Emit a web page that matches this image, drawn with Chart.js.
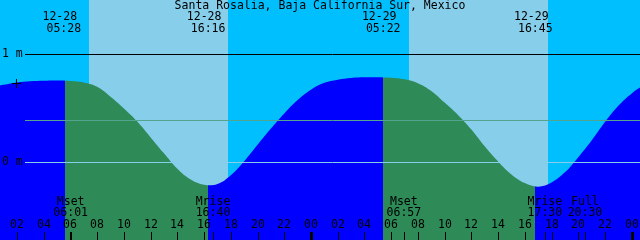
<!DOCTYPE html>
<html>
<head>
<meta charset="utf-8">
<script src="https://cdn.jsdelivr.net/npm/chart.js@4.4.1/dist/chart.umd.min.js"></script>
<style>
  html, body { margin: 0; padding: 0; background: #00BFFF; }
  #wrap { width: 640px; height: 240px; position: relative; }
</style>
</head>
<body>
<div id="wrap"><canvas id="chart"></canvas></div>
<script>
const title = "Santa Rosalia, Baja California Sur, Mexico";

// tide height (m), one reading per hour from 12-28 00:00
const tideHours = [0, 1, 2, 3, 4, 5, 6, 7, 8, 9, 10, 11, 12, 13, 14, 15, 16, 17, 18, 19, 20, 21, 22, 23, 24,
  25, 26, 27, 28, 29, 30, 31, 32, 33, 34, 35, 36, 37, 38, 39, 40, 41, 42, 43, 44, 45, 46, 47, 48, 49];
const tideLevels = [0.69, 0.715, 0.737, 0.748, 0.753, 0.755, 0.751, 0.737, 0.697, 0.605, 0.496, 0.375, 0.228, 0.08,
  -0.063, -0.163, -0.211, -0.203, -0.122, 0.008, 0.16, 0.31, 0.45, 0.575, 0.67,
  0.733, 0.762, 0.778, 0.784, 0.785, 0.78, 0.766, 0.73, 0.658, 0.55, 0.435, 0.30, 0.145, 0.005, -0.115, -0.195,
  -0.228, -0.189, -0.096, 0.045, 0.20, 0.37, 0.52, 0.635, 0.72];

// daylight bands (hours)
const dayStart = [7.39, 31.33];
const dayEnd = [17.79, 41.73];
// moon below horizon -> green fill (hours)
const moonDownStart = [5.59, 29.39];
const moonDownEnd = [16.29, 40.76];

// sun event labels at top
const sunHours = [5.467, 16.267, 29.367, 40.75];
const sunDates = ["12-28", "12-28", "12-29", "12-29"];
const sunTimes = ["05:28", "16:16", "05:22", "16:45"];

// moon event labels at bottom
const moonHours = [6.017, 16.667, 30.95, 41.5, 44.5];
const moonNames = ["Mset", "Mrise", "Mset", "Mrise", "Full"];
const moonTimes = ["06:01", "16:40", "06:57", "17:30", "20:30"];

const hourTicks = [2, 4, 6, 8, 10, 12, 14, 16, 18, 20, 22, 24, 26, 28, 30, 32, 34, 36, 38, 40, 42, 44, 46, 48];
const levelLines = [1, 0.39, 0];
const levelLabels = ["1 m", "", "0 m"];
const levelColors = ["#000000", "#52A58C", "#87CEEB"];

const nowMark = [{ x: 1.96, y: 0.727 }];

const NIGHT = "#00BFFF", DAY = "#87CEEB", BLUE = "#0000FF", GREEN = "#2E8B57";
const FONT = "11.5px 'DejaVu Sans Mono'";

function moonFill(context) {
  const chart = context.chart;
  const area = chart.chartArea;
  if (!area) return BLUE;
  const xs = chart.scales.x;
  const w = area.right - area.left;
  const g = chart.ctx.createLinearGradient(area.left, 0, area.right, 0);
  const pos = h => Math.min(1, Math.max(0, (xs.getPixelForValue(h) - area.left) / w));
  g.addColorStop(0, BLUE);
  moonDownStart.forEach((s, i) => {
    const a = pos(s), b = pos(moonDownEnd[i]);
    g.addColorStop(a, BLUE);
    g.addColorStop(a, GREEN);
    g.addColorStop(b, GREEN);
    g.addColorStop(b, BLUE);
  });
  g.addColorStop(1, BLUE);
  return g;
}

const skyBands = {
  id: "skyBands",
  beforeDatasetsDraw(chart) {
    const { ctx, chartArea: a, scales: { x } } = chart;
    ctx.save();
    ctx.fillStyle = NIGHT;
    ctx.fillRect(a.left, a.top, a.right - a.left, a.bottom - a.top);
    ctx.fillStyle = DAY;
    dayStart.forEach((s, i) => {
      const x0 = Math.round(x.getPixelForValue(s));
      const x1 = Math.round(x.getPixelForValue(dayEnd[i]));
      ctx.fillRect(x0, a.top, x1 - x0, a.bottom - a.top);
    });
    ctx.restore();
  }
};

const overlay = {
  id: "overlay",
  afterDatasetsDraw(chart) {
    const { ctx, chartArea: a, scales: { x, y } } = chart;
    ctx.save();

    // reference level lines
    levelLines.forEach((v, i) => {
      const py = Math.round(y.getPixelForValue(v)) + 0.5;
      ctx.strokeStyle = levelColors[i];
      ctx.lineWidth = 1;
      ctx.beginPath();
      ctx.moveTo(25, py);
      ctx.lineTo(a.right, py);
      ctx.stroke();
    });

    ctx.font = FONT;
    ctx.fillStyle = "#000";
    ctx.textBaseline = "middle";

    ctx.textAlign = "left";
    levelLines.forEach((v, i) => {
      if (levelLabels[i]) ctx.fillText(levelLabels[i], 2, y.getPixelForValue(v));
    });

    ctx.textAlign = "center";
    ctx.fillText(title, 320, 6);

    sunHours.forEach((h, i) => {
      const px = x.getPixelForValue(h);
      ctx.fillText(sunDates[i], px - 3.5, 17);
      ctx.fillText(sunTimes[i], px + 0.5, 29.5);
    });

    moonHours.forEach((h, i) => {
      const px = x.getPixelForValue(h);
      ctx.fillText(moonNames[i], px, 202);
      ctx.fillText(moonTimes[i], px, 213.5);
    });

    // hour ticks
    ctx.strokeStyle = "#000";
    hourTicks.forEach(h => {
      const px = Math.round(x.getPixelForValue(h));
      const label = String(h % 24).padStart(2, "0");
      ctx.fillText(label, px, 225);
      if (h % 24 === 0) {
        ctx.fillRect(px - 1, 232, 3, 8);
      } else {
        ctx.beginPath();
        ctx.moveTo(px + 0.5, 232);
        ctx.lineTo(px + 0.5, 240);
        ctx.stroke();
      }
    });
    // moon event ticks
    moonHours.forEach(h => {
      const px = Math.round(x.getPixelForValue(h));
      ctx.beginPath();
      ctx.moveTo(px + 0.5, 232);
      ctx.lineTo(px + 0.5, 240);
      ctx.stroke();
    });

    ctx.restore();
  }
};

const ctx = document.getElementById("chart").getContext("2d");

const myChart = new Chart(ctx, {
  type: "line",
  data: {
    datasets: [
      {
        label: "now",
        data: nowMark,
        showLine: false,
        pointStyle: "cross",
        pointRadius: 4.5,
        pointBorderColor: "#000",
        pointBorderWidth: 1,
        order: 0
      },
      {
        label: "tide",
        data: tideHours.map((h, i) => ({ x: h, y: tideLevels[i] })),
        borderColor: "transparent",
        borderWidth: 0,
        pointRadius: 0,
        fill: "start",
        backgroundColor: moonFill,
        tension: 0.4,
        order: 1
      }
    ]
  },
  options: {
    responsive: true,
    maintainAspectRatio: false,
    animation: false,
    devicePixelRatio: 1,
    events: [],
    layout: { padding: 0, autoPadding: false },
    scales: {
      x: { type: "linear", display: false, min: 0.728, max: 48.62 },
      y: { display: false, min: -0.7222, max: 1.5 }
    },
    plugins: {
      legend: { display: false },
      tooltip: { enabled: false },
      title: { display: false }
    }
  },
  plugins: [skyBands, overlay]
});
</script>
</body>
</html>
